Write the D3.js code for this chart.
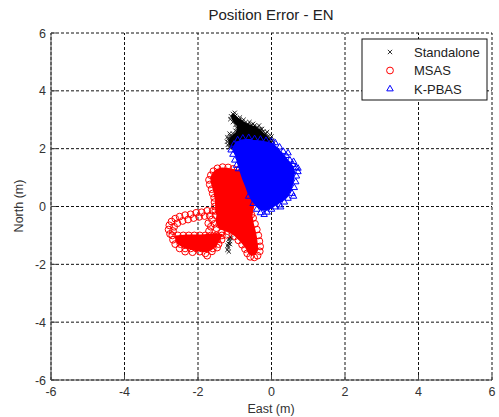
<!DOCTYPE html>
<html lang="en">
<head>
<meta charset="UTF-8">
<title>Position Error - EN</title>
<script src="https://d3js.org/d3.v7.min.js"></script>
<style>
    body { margin: 0; background: #fff; }
    text { font-family: "Liberation Sans", Arial, sans-serif; }
</style>
</head>
<body>
<svg width="499" height="417"></svg>
<script>
    // axis setup
    const xTicks = [-6, -4, -2, 0, 2, 4, 6]
    const yTicks = [-6, -4, -2, 0, 2, 4, 6]
    const legendNames = ["Standalone", "MSAS", "K-PBAS"]

    // dense core outlines (East, North in m)
    const standaloneCore = [[-1.08,3.2],[-1.0,3.18],[-0.92,3.08],[-0.85,3.03],[-0.78,2.96],[-0.7,2.9],[-0.62,2.85],[-0.52,2.8],[-0.44,2.78],[-0.36,2.7],[-0.3,2.66],[-0.22,2.56],[-0.14,2.48],[-0.07,2.38],[-0.02,2.28],[0.02,2.18],[-0.3,2.12],[-0.8,2.12],[-1.1,2.0],[-1.17,2.15],[-1.18,2.3],[-1.12,2.4],[-1.04,2.5],[-0.97,2.58],[-0.94,2.7],[-0.95,2.8],[-1.02,2.9],[-1.08,3.0],[-1.1,3.1]]
    const msasCore = [[-1.6,1.18],[-1.5,1.3],[-1.35,1.35],[-1.2,1.34],[-1.05,1.3],[-0.9,1.27],[-0.75,1.15],[-0.6,0.9],[-0.52,0.5],[-0.45,0.1],[-0.52,-0.3],[-0.48,-0.6],[-0.43,-0.85],[-0.39,-1.1],[-0.37,-1.35],[-0.38,-1.55],[-0.44,-1.68],[-0.55,-1.7],[-0.64,-1.6],[-0.72,-1.42],[-0.85,-1.22],[-1.0,-1.03],[-1.15,-0.9],[-1.3,-0.82],[-1.45,-0.75],[-1.52,-0.5],[-1.5,-0.3],[-1.53,-0.1],[-1.54,0.2],[-1.58,0.5],[-1.65,0.8],[-1.67,1.0]]
    const loopCore = [[-2.62,-1.0],[-2.3,-0.97],[-1.9,-0.97],[-1.5,-0.92],[-1.32,-0.96],[-1.4,-1.15],[-1.5,-1.35],[-1.62,-1.5],[-1.8,-1.58],[-2.1,-1.53],[-2.4,-1.43],[-2.58,-1.28]]
    const kpbasCore = [[-1.08,2.0],[-0.98,2.22],[-0.85,2.3],[-0.7,2.33],[-0.5,2.3],[-0.3,2.28],[-0.1,2.24],[0.05,2.18],[0.18,2.02],[0.3,1.86],[0.4,1.7],[0.5,1.55],[0.6,1.38],[0.64,1.2],[0.62,1.0],[0.6,0.8],[0.54,0.55],[0.44,0.32],[0.3,0.17],[0.15,0.05],[0.02,-0.05],[-0.12,-0.15],[-0.28,-0.15],[-0.42,0.0],[-0.55,0.2],[-0.65,0.45],[-0.72,0.7],[-0.8,0.95],[-0.88,1.25],[-0.93,1.5],[-0.98,1.75]]

    // individual fixes
    const standalonePts = [[-1.05,3.2],[-1.1,3.12],[-0.98,3.14],[-0.95,3.05],[-0.88,3.0],[-0.8,2.95],[-0.72,2.9],[-0.64,2.85],[-0.55,2.82],[-0.46,2.8],[-0.38,2.74],[-0.3,2.68],[-0.22,2.6],[-0.15,2.52],[-0.08,2.44],[-0.03,2.35],[0.02,2.27],[0.06,2.2],[-1.12,3.02],[-1.05,2.92],[-0.98,2.82],[-0.95,2.72],[-0.98,2.62],[-1.05,2.52],[-1.12,2.44],[-1.18,2.34],[-1.21,2.24],[-1.19,2.13],[-1.15,2.04],
        [-0.86,3.08],[-0.76,3.0],[-0.6,2.92],[-0.5,2.86],[-0.34,2.8],[-0.26,2.68],[-0.12,2.58],[0.0,2.42],[-1.0,3.24],[-1.14,2.52],[-1.2,2.4],
        [-1.12,-1.05],[-1.15,-1.12],[-1.14,-1.2],[-1.17,-1.28],[-1.19,-1.35],[-1.18,-1.42],[-1.2,-1.5],[-1.16,-1.56],[-1.1,-1.1],[-1.13,-1.3]]
    const msasPts = [[-1.58,1.22],[-1.47,1.32],[-1.33,1.36],[-1.18,1.35],[-1.04,1.3],[-0.93,1.26],[-0.84,1.18],[-1.65,1.08],[-1.7,0.92],[-1.68,0.76],[-1.63,0.6],[-1.6,0.45],[-1.56,0.3],[-1.55,0.15],[-1.54,0.0],[-1.53,-0.15],[-1.52,-0.3],
        [-0.5,-0.4],[-0.45,-0.6],[-0.4,-0.8],[-0.36,-1.0],[-0.33,-1.2],[-0.31,-1.38],[-0.32,-1.55],[-0.38,-1.7],[-0.47,-1.76],[-0.58,-1.74],[-0.66,-1.62],[-0.72,-1.47],[-0.8,-1.32],[-0.9,-1.17],[-1.0,-1.03],[-0.55,-1.55],[-0.46,-1.45],[-0.55,-0.28],
        [-1.6,-0.15],[-1.75,-0.15],[-1.9,-0.2],[-2.05,-0.22],[-2.2,-0.27],[-2.35,-0.3],[-2.5,-0.35],[-2.62,-0.42],[-2.72,-0.52],[-2.78,-0.65],[-2.8,-0.8],[-2.76,-0.95],
        [-1.68,-0.32],[-1.82,-0.33],[-1.97,-0.36],[-2.12,-0.4],[-2.27,-0.45],[-2.42,-0.5],[-2.56,-0.58],[-2.65,-0.7],[-2.68,-0.85],
        [-1.62,-0.45],[-1.55,-0.6],[-1.5,-0.75],[-1.65,-0.7],[-1.4,-0.5],[-1.3,-0.7],[-1.2,-0.85],[-1.35,-0.9],[-1.7,-0.85],[-1.72,-0.58],[-1.42,-0.62],
        [-2.7,-1.0],[-2.55,-1.0],[-2.4,-1.0],[-2.25,-1.0],[-2.1,-1.0],[-1.95,-1.0],[-1.8,-1.0],[-1.65,-1.0],[-1.5,-1.0],[-1.35,-1.0],[-1.22,-0.98],
        [-2.68,-1.15],[-2.52,-1.15],[-2.38,-1.15],[-2.22,-1.15],[-2.08,-1.15],[-1.92,-1.15],[-1.78,-1.15],[-1.62,-1.15],[-1.48,-1.15],[-1.36,-1.15],
        [-2.62,-1.3],[-2.48,-1.3],[-2.32,-1.3],[-2.18,-1.3],[-2.02,-1.3],[-1.88,-1.3],[-1.72,-1.3],[-1.58,-1.3],[-1.44,-1.3],
        [-2.5,-1.45],[-2.35,-1.45],[-2.2,-1.45],[-2.05,-1.45],[-1.9,-1.45],[-1.75,-1.45],[-1.6,-1.45],[-1.48,-1.42],
        [-2.35,-1.56],[-2.15,-1.58],[-1.95,-1.56],[-1.8,-1.62],[-1.75,-1.7],[-1.62,-1.55]]
    const kpbasPts = [[0.1,2.2],[0.22,2.05],[0.32,1.9],[0.4,1.76],[0.5,1.6],[0.58,1.45],[0.67,1.35],[0.72,1.2],[0.68,1.05],[0.66,0.85],[0.62,0.65],[0.56,0.45],[0.45,0.28],[0.35,0.15],[0.22,0.05],[0.1,-0.02],[0.0,-0.1],[-0.12,-0.2],[-0.2,-0.28],[-0.3,-0.22],[-0.4,-0.1],
        [-1.1,1.95],[-1.02,2.15],[-0.92,2.3],[-0.78,2.36],[-0.62,2.38],[-0.46,2.34],[-0.3,2.32],[-0.15,2.28],[0.0,2.25],
        [-1.05,1.8],[-1.0,1.6],[-0.95,1.42],[-0.9,1.3],[-0.5,0.1],[-0.62,0.35],
        [0.45,1.3],[0.5,1.0],[0.3,0.6],[0.4,0.8],[0.55,1.2],[0.6,1.55],[0.45,1.85],[0.72,1.32],[0.6,0.35],[0.25,-0.02]]

    const svg = d3.select("svg")

    let x = d3.scaleLinear().domain([-6, 6]).range([51, 492])
    let y = d3.scaleLinear().domain([-6, 6]).range([380, 33])

    // grid
    let grid = svg.append("g")
    grid.selectAll(".gx").data(xTicks).enter().append("line")
        .attr("x1", d => x(d)).attr("x2", d => x(d))
        .attr("y1", y(-6)).attr("y2", y(6))
        .attr("stroke", "#111").attr("stroke-dasharray", "3,2")
    grid.selectAll(".gy").data(yTicks).enter().append("line")
        .attr("x1", x(-6)).attr("x2", x(6))
        .attr("y1", d => y(d)).attr("y2", d => y(d))
        .attr("stroke", "#111").attr("stroke-dasharray", "3,2")

    let line = d3.line().x(d => x(d[0])).y(d => y(d[1])).curve(d3.curveLinearClosed)
    let plot = svg.append("g")

    // Standalone
    plot.append("path").attr("d", line(standaloneCore)).attr("fill", "#000")
    let xMark = d3.symbol().type(d3.symbolTimes || d3.symbolCross).size(14)
    plot.selectAll(".sa").data(standalonePts).enter().append("path")
        .attr("d", xMark)
        .attr("transform", d => `translate(${x(d[0])},${y(d[1])})`)
        .attr("fill", "none").attr("stroke", "#000").attr("stroke-width", 0.8)

    // MSAS
    plot.append("path").attr("d", line(msasCore)).attr("fill", "#ff0000")
    plot.append("path").attr("d", line(loopCore)).attr("fill", "#ff0000")
    plot.selectAll(".ms").data(msasPts).enter().append("circle")
        .attr("cx", d => x(d[0])).attr("cy", d => y(d[1])).attr("r", 3.4)
        .attr("fill", "none").attr("stroke", "#ff0000").attr("stroke-width", 1)

    // K-PBAS
    plot.append("path").attr("d", line(kpbasCore)).attr("fill", "#0000ff")
    let triMark = d3.symbol().type(d3.symbolTriangle2 || d3.symbolTriangle).size(30)
    plot.selectAll(".kp").data(kpbasPts).enter().append("path")
        .attr("d", triMark)
        .attr("transform", d => `translate(${x(d[0])},${y(d[1])})`)
        .attr("fill", "none").attr("stroke", "#0000ff").attr("stroke-width", 1)

    // axes lines + ticks
    let ax = svg.append("g").attr("stroke", "#444")
    ax.append("line").attr("x1", x(-6)).attr("x2", x(-6)).attr("y1", y(-6)).attr("y2", y(6))
    ax.append("line").attr("x1", x(-6)).attr("x2", x(6)).attr("y1", y(-6)).attr("y2", y(-6))
    ax.selectAll(".tx").data(xTicks).enter().append("line")
        .attr("x1", d => x(d)).attr("x2", d => x(d)).attr("y1", y(-6)).attr("y2", y(-6) - 5)
    ax.selectAll(".ty").data(yTicks).enter().append("line")
        .attr("x1", x(-6)).attr("x2", x(-6) + 5).attr("y1", d => y(d)).attr("y2", d => y(d))

    svg.selectAll(".lx").data(xTicks).enter().append("text")
        .attr("x", d => x(d)).attr("y", 396)
        .attr("text-anchor", "middle").attr("font-size", 12.5).attr("fill", "#333")
        .text(d => d)
    svg.selectAll(".ly").data(yTicks).enter().append("text")
        .attr("x", 46).attr("y", d => y(d) + 4.5)
        .attr("text-anchor", "end").attr("font-size", 12.5).attr("fill", "#333")
        .text(d => d)

    svg.append("text").attr("x", 271).attr("y", 20).attr("text-anchor", "middle")
        .attr("font-size", 15).attr("fill", "#222").text("Position Error - EN")
    svg.append("text").attr("x", 271).attr("y", 413).attr("text-anchor", "middle")
        .attr("font-size", 12.5).attr("fill", "#333").text("East (m)")
    svg.append("text").attr("transform", "translate(23,206) rotate(-90)").attr("text-anchor", "middle")
        .attr("font-size", 12.5).attr("fill", "#333").text("North (m)")

    // legend
    let lg = svg.append("g")
    lg.append("rect").attr("x", 362).attr("y", 39).attr("width", 125).attr("height", 61)
        .attr("fill", "#fff").attr("stroke", "#111")
    lg.append("path").attr("d", xMark).attr("transform", "translate(390,52)")
        .attr("fill", "none").attr("stroke", "#000").attr("stroke-width", 0.8)
    lg.append("circle").attr("cx", 390).attr("cy", 70.5).attr("r", 3.4)
        .attr("fill", "none").attr("stroke", "#ff0000")
    lg.append("path").attr("d", triMark).attr("transform", "translate(390,89)")
        .attr("fill", "none").attr("stroke", "#0000ff")
    lg.selectAll(".lt").data(legendNames).enter().append("text")
        .attr("x", 414).attr("y", (d, i) => 56.5 + i * 18.7)
        .attr("font-size", 13).attr("fill", "#222").text(d => d)
</script>
</body>
</html>
